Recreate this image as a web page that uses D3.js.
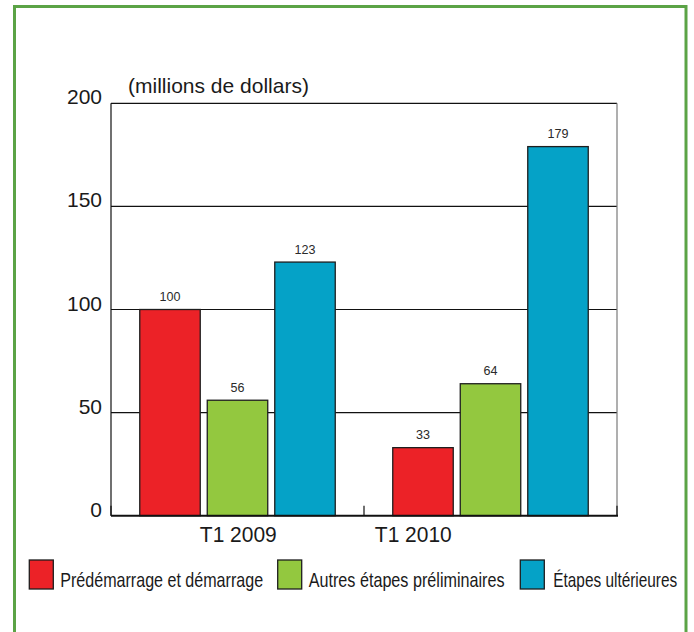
<!DOCTYPE html>
<html>
<head>
<meta charset="utf-8">
<script src="https://cdn.jsdelivr.net/npm/d3@7"></script>
<style>
  html, body { margin: 0; padding: 0; background: #fff; }
  svg { display: block; }
  text { font-family: "Liberation Sans", Arial, sans-serif; fill: #1a1a1a; }
</style>
</head>
<body>
<svg id="chart" width="694" height="632"></svg>
<script>
// ---- data ----
const categories = ["T1 2009", "T1 2010"];
const seriesNames = ["Prédémarrage et démarrage", "Autres étapes préliminaires", "Étapes ultérieures"];
const seriesColors = ["#ec2227", "#93c83f", "#05a2c7"];
const predemarrage = [100, 33];
const autresEtapes = [56, 64];
const etapesUlterieures = [123, 179];
const yTicks = [0, 50, 100, 150, 200];
const unitLabel = "(millions de dollars)";

const seriesValues = [predemarrage, autresEtapes, etapesUlterieures];

// ---- layout ----
const W = 694, H = 632;
const plot = { left: 111, right: 617, top: 103.3, bottom: 515.7 };
const svg = d3.select("#chart");

// place a text at (x, y) with given anchor, horizontally condensed to a target width
function condensedText(parent, str, px, py, size, targetW, anchor) {
  const g = parent.append("g");
  const t = g.append("text").attr("font-size", size).attr("text-anchor", anchor || "start").text(str);
  const w = t.node().getComputedTextLength();
  const sx = Math.min(1, targetW / w);
  g.attr("transform", `translate(${px},${py}) scale(${sx},1)`);
  return t;
}

svg.append("rect").attr("x", 0).attr("y", 0).attr("width", W).attr("height", H).attr("fill", "#fff");

// outer green frame
svg.append("rect")
  .attr("x", 14.5).attr("y", 6.5)
  .attr("width", 671.5).attr("height", 700)
  .attr("fill", "none").attr("stroke", "#5ba346").attr("stroke-width", 3);

const x = d3.scaleBand().domain(categories).range([plot.left, plot.right]).padding(0);
const xs = d3.scaleBand().domain(seriesNames).range([0, x.bandwidth()])
  .paddingInner(0.104).paddingOuter(0.426);
const y = d3.scaleLinear().domain([0, 200]).range([plot.bottom, plot.top]);

// gridlines
svg.append("g").selectAll("line").data(yTicks.filter(t => t > 0 && t < 200)).join("line")
  .attr("x1", plot.left).attr("x2", plot.right)
  .attr("y1", d => y(d)).attr("y2", d => y(d))
  .attr("stroke", "#111").attr("stroke-width", 1.2);

// frame: top, left, right
svg.append("line").attr("x1", plot.left).attr("x2", plot.right).attr("y1", y(200)).attr("y2", y(200))
  .attr("stroke", "#111").attr("stroke-width", 1.2);
svg.append("line").attr("x1", plot.left).attr("x2", plot.left).attr("y1", y(200)).attr("y2", y(0))
  .attr("stroke", "#111").attr("stroke-width", 1.2);
svg.append("line").attr("x1", plot.right).attr("x2", plot.right).attr("y1", y(200)).attr("y2", y(0))
  .attr("stroke", "#7a7a7a").attr("stroke-width", 1.2);

// y tick labels
svg.append("g").selectAll("text").data(yTicks).join("text")
  .attr("x", 102).attr("y", d => y(d) + 1)
  .attr("text-anchor", "end")
  .attr("font-size", 21)
  .text(d => d);

// unit label
condensedText(svg, unitLabel, 128, 93.3, 21, 185, "start");

// bars
const groups = svg.append("g").selectAll("g").data(categories).join("g")
  .attr("transform", d => `translate(${x(d)},0)`);

groups.each(function(cat, ci) {
  const g = d3.select(this);
  seriesNames.forEach((s, si) => {
    const v = seriesValues[si][ci];
    g.append("rect")
      .attr("x", xs(s)).attr("y", y(v))
      .attr("width", xs.bandwidth()).attr("height", y(0) - y(v))
      .attr("fill", seriesColors[si])
      .attr("stroke", "#1e1e1e").attr("stroke-width", 1.3);
    condensedText(g, String(v), xs(s) + xs.bandwidth() / 2, y(v) - 8.5, 13.5, String(v).length * 7, "middle")
      .style("fill", "#2a2a2a");
  });
});

// x axis baseline
svg.append("line").attr("x1", plot.left).attr("x2", plot.right + 1).attr("y1", y(0)).attr("y2", y(0))
  .attr("stroke", "#111").attr("stroke-width", 2);
// upward ticks at band boundaries
const boundaries = categories.map(c => x(c)).concat([x(categories[categories.length - 1]) + x.bandwidth()]);
svg.append("g").selectAll("line").data(boundaries).join("line")
  .attr("x1", d => d).attr("x2", d => d)
  .attr("y1", y(0)).attr("y2", y(0) - 10)
  .attr("stroke", "#111").attr("stroke-width", 1.2);

// category labels
const labelOffsets = [x.bandwidth() / 2 + 0.8, 49.3];
const xl = svg.append("g");
categories.forEach((c, i) => {
  condensedText(xl, c, x(c) + labelOffsets[i], 541.7, 22, 77, "middle");
});

// legend
const legendX = [29.3, 277.7, 520.3];
const legendTextW = [203, 196, 124];
const lg = svg.append("g");
seriesNames.forEach((s, i) => {
  lg.append("rect").attr("x", legendX[i]).attr("y", 560).attr("width", 24).attr("height", 29)
    .attr("fill", seriesColors[i])
    .attr("stroke", "#1e1e1e").attr("stroke-width", 1.3);
  condensedText(lg, s, legendX[i] + (i === 2 ? 33 : 31), 586.7, 20.5, legendTextW[i], "start");
});
</script>
</body>
</html>
